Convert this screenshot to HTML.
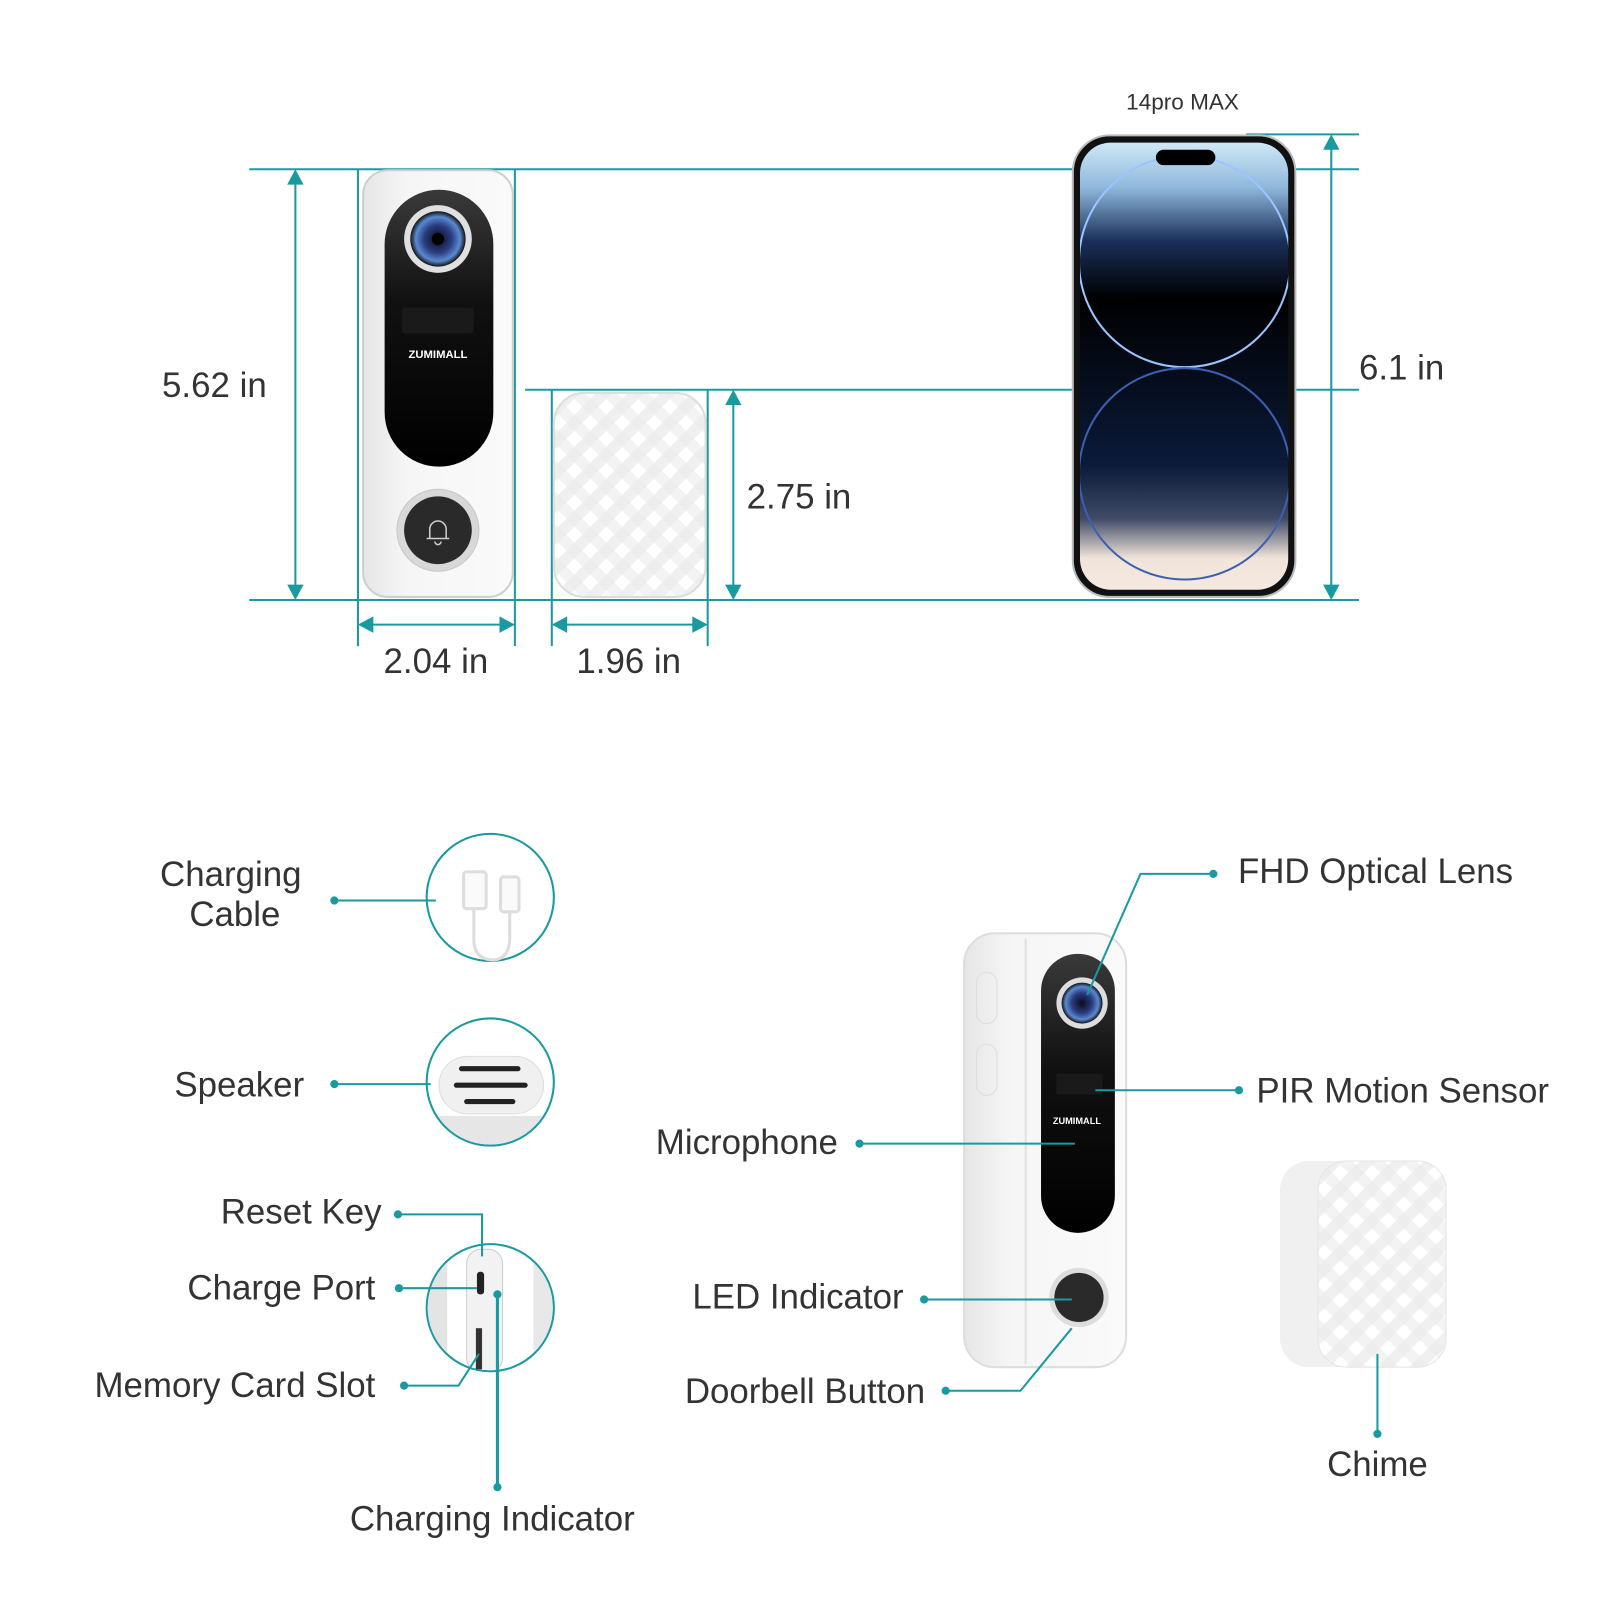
<!DOCTYPE html>
<html><head><meta charset="utf-8"><style>
html,body{margin:0;padding:0;background:#fff;width:1600px;height:1600px;overflow:hidden}
svg{display:block}
text{font-family:"Liberation Sans",sans-serif;fill:#333}
</style></head><body>
<svg width="1600" height="1600" viewBox="0 0 1560 1560" xmlns="http://www.w3.org/2000/svg">
<defs>
<pattern id="chk" width="22" height="22" patternUnits="userSpaceOnUse" patternTransform="rotate(45)">
<rect width="22" height="22" fill="#fff"/>
<rect width="11" height="22" fill="#f0f0f0"/>
<rect width="22" height="11" fill="#ebebeb" opacity="0.6"/>
</pattern>
<linearGradient id="scr" x1="0" y1="0" x2="0" y2="1">
<stop offset="0" stop-color="#cfe8f6"/><stop offset="0.1" stop-color="#8fb8dc"/><stop offset="0.22" stop-color="#1a2f5a"/><stop offset="0.35" stop-color="#000"/><stop offset="0.72" stop-color="#0b1a38"/><stop offset="0.84" stop-color="#3e4a66"/><stop offset="0.93" stop-color="#f1e4da"/><stop offset="1" stop-color="#f5e9e0"/>
</linearGradient>
<radialGradient id="lens"><stop offset="0" stop-color="#0a0a1a"/><stop offset="0.5" stop-color="#2a3d80"/><stop offset="0.8" stop-color="#5a8ad0"/><stop offset="1" stop-color="#111"/></radialGradient>
<linearGradient id="pill" x1="0" y1="0" x2="0" y2="1"><stop offset="0" stop-color="#3a3a3a"/><stop offset="0.4" stop-color="#111"/><stop offset="1" stop-color="#000"/></linearGradient>
<linearGradient id="body" x1="0" y1="0" x2="1" y2="0"><stop offset="0" stop-color="#e6e6e6"/><stop offset="0.3" stop-color="#f6f6f6"/><stop offset="1" stop-color="#fafafa"/></linearGradient>
<clipPath id="scrclip"><rect x="1053" y="139" width="203" height="436" rx="30"/></clipPath>
<clipPath id="c2"><circle cx="478" cy="1055" r="61"/></clipPath>
<clipPath id="c3"><circle cx="478" cy="1275" r="61"/></clipPath>
</defs>
<g stroke="#1a9aa0" stroke-width="2" fill="none">
<line x1="243" y1="165" x2="1046" y2="165"/>
<line x1="1263" y1="165" x2="1325" y2="165"/>
<line x1="243" y1="585" x2="1325" y2="585"/>
<line x1="1215" y1="131" x2="1325" y2="131"/>
<line x1="512" y1="380" x2="1046" y2="380"/>
<line x1="1263" y1="380" x2="1325" y2="380"/>
<line x1="288" y1="170" x2="288" y2="580"/>
<line x1="1298" y1="136" x2="1298" y2="580"/>
<line x1="715" y1="385" x2="715" y2="580"/>
<line x1="349" y1="165" x2="349" y2="630"/>
<line x1="502" y1="165" x2="502" y2="630"/>
<line x1="538" y1="380" x2="538" y2="630"/>
<line x1="690" y1="380" x2="690" y2="630"/>
<line x1="354" y1="609" x2="497" y2="609"/>
<line x1="543" y1="609" x2="685" y2="609"/>
</g>
<g fill="#1a9aa0">
<polygon points="288,165 280,180 296,180"/><polygon points="288,585 280,570 296,570"/>
<polygon points="1298,131 1290,146 1306,146"/><polygon points="1298,585 1290,570 1306,570"/>
<polygon points="715,380 707,395 723,395"/><polygon points="715,585 707,570 723,570"/>
<polygon points="349,609 364,601 364,617"/><polygon points="502,609 487,601 487,617"/>
<polygon points="538,609 553,601 553,617"/><polygon points="690,609 675,601 675,617"/>
</g>
<g font-size="34">
<text x="158" y="387">5.62 in</text>
<text x="425" y="656" text-anchor="middle">2.04 in</text>
<text x="613" y="656" text-anchor="middle">1.96 in</text>
<text x="728" y="496">2.75 in</text>
<text x="1325" y="370">6.1 in</text>
</g>
<text x="1153" y="107" font-size="22" text-anchor="middle">14pro MAX</text>
<!-- doorbell front -->
<rect x="354" y="166" width="146" height="416" rx="24" fill="url(#body)" stroke="#cfcfcf" stroke-width="2"/>
<rect x="375" y="185" width="106" height="270" rx="53" fill="url(#pill)"/>
<circle cx="427" cy="233" r="33" fill="#e0e0e0"/><circle cx="427" cy="233" r="27" fill="url(#lens)"/><circle cx="427" cy="233" r="6" fill="#000"/>
<rect x="392" y="300" width="70" height="25" rx="3" fill="#1a1a1a"/>
<text x="427" y="349" font-size="11" font-weight="bold" text-anchor="middle" style="fill:#fff">ZUMIMALL</text>
<circle cx="427" cy="517" r="40" fill="#d8d8d8" stroke="#c8c8c8"/><circle cx="427" cy="517" r="33" fill="#2a2a2a"/>
<path d="M419 525 v-9 a8 8 0 0 1 16 0 v9 h3 h-22z M424 528 a3 3 0 0 0 6 0" stroke="#ccc" stroke-width="1.5" fill="none"/>
<!-- chime front -->
<rect x="540" y="383" width="148" height="199" rx="30" fill="url(#chk)" stroke="#ddd" stroke-width="2"/>
<!-- phone -->
<rect x="1046" y="132" width="217" height="450" rx="36" fill="#111" stroke="#bbb" stroke-width="2"/>
<rect x="1053" y="139" width="203" height="436" rx="30" fill="url(#scr)"/>
<g clip-path="url(#scrclip)" fill="none">
<circle cx="1155" cy="255" r="103" stroke="#9cc4ff" stroke-width="2"/>
<circle cx="1155" cy="462" r="103" stroke="#3d5fb0" stroke-width="2"/>
</g>
<rect x="1127" y="146" width="58" height="15" rx="7.5" fill="#000"/>
<!-- bottom circles -->
<g stroke="#1a9aa0" stroke-width="2" fill="#fff">
<circle cx="478" cy="875" r="62"/><circle cx="478" cy="1055" r="62"/><circle cx="478" cy="1275" r="62"/>
</g>
<g fill="none" stroke="#ddd" stroke-width="3">
<rect x="452" y="850" width="22" height="36" rx="3" fill="#fafafa"/><rect x="488" y="855" width="18" height="34" rx="3" fill="#fafafa"/>
<path d="M462 886 v30 q0 20 20 20 M497 889 v25 q0 20 -15 22"/>
</g>
<g clip-path="url(#c2)">
<rect x="420" y="1088" width="116" height="30" fill="#e6e6e6"/>
<rect x="428" y="1030" width="102" height="56" rx="28" fill="#f0f0f0" stroke="#ddd"/>
</g>
<g stroke="#222" stroke-width="5" stroke-linecap="round"><line x1="450" y1="1042" x2="505" y2="1042"/><line x1="445" y1="1058" x2="512" y2="1058"/><line x1="455" y1="1074" x2="500" y2="1074"/></g>
<g clip-path="url(#c3)">
<rect x="416" y="1212" width="20" height="130" fill="#e4e4e4"/>
<rect x="520" y="1212" width="20" height="130" fill="#e8e8e8"/>
<rect x="455" y="1218" width="35" height="120" rx="14" fill="#f2f2f2" stroke="#ccc"/>
</g>
<rect x="465" y="1240" width="7" height="22" rx="3" fill="#222"/><rect x="464" y="1295" width="6" height="40" fill="#333"/>
<!-- labels -->
<g font-size="34">
<text x="225" y="864" text-anchor="middle">Charging</text>
<text x="229" y="903" text-anchor="middle">Cable</text>
<text x="170" y="1069">Speaker</text>
<text x="372" y="1193" text-anchor="end">Reset Key</text>
<text x="366" y="1267" text-anchor="end">Charge Port</text>
<text x="366" y="1362" text-anchor="end">Memory Card Slot</text>
<text x="480" y="1492" text-anchor="middle">Charging Indicator</text>
<text x="1207" y="861">FHD Optical Lens</text>
<text x="1225" y="1075">PIR Motion Sensor</text>
<text x="817" y="1125" text-anchor="end">Microphone</text>
<text x="881" y="1276" text-anchor="end">LED Indicator</text>
<text x="902" y="1368" text-anchor="end">Doorbell Button</text>
<text x="1343" y="1439" text-anchor="middle">Chime</text>
</g>
<!-- big doorbell -->
<rect x="940" y="910" width="158" height="423" rx="30" fill="url(#body)" stroke="#ddd" stroke-width="2"/>
<line x1="1000" y1="915" x2="1000" y2="1330" stroke="#e2e2e2" stroke-width="2"/>
<rect x="952" y="948" width="20" height="50" rx="10" fill="none" stroke="#ddd"/>
<rect x="952" y="1018" width="20" height="50" rx="10" fill="none" stroke="#ddd"/>
<rect x="1015" y="930" width="72" height="272" rx="36" fill="url(#pill)"/>
<circle cx="1055" cy="978" r="25" fill="#ddd"/><circle cx="1055" cy="978" r="20" fill="url(#lens)"/>
<rect x="1030" y="1047" width="45" height="20" fill="#1a1a1a"/>
<text x="1050" y="1096" font-size="9" font-weight="bold" text-anchor="middle" style="fill:#fff">ZUMIMALL</text>
<circle cx="1052" cy="1265" r="29" fill="#ddd"/><circle cx="1052" cy="1265" r="24" fill="#2a2a2a"/>
<!-- chime side -->
<rect x="1248" y="1132" width="120" height="201" rx="28" fill="#f0f0f0"/>
<rect x="1285" y="1132" width="125" height="201" rx="28" fill="url(#chk)" stroke="#e5e5e5"/>
<!-- connectors -->
<g stroke="#1a9aa0" stroke-width="2" fill="none">
<line x1="326" y1="878" x2="425" y2="878"/>
<line x1="326" y1="1057" x2="420" y2="1057"/>
<polyline points="388,1184 470,1184 470,1225"/>
<line x1="389" y1="1256" x2="465" y2="1256"/>
<polyline points="394,1351 447,1351 467,1320"/>
<line x1="485" y1="1262" x2="485" y2="1450" stroke-width="3"/>
<polyline points="1183,852 1112,852 1060,970"/>
<line x1="1208" y1="1063" x2="1068" y2="1063"/>
<line x1="838" y1="1115" x2="1048" y2="1115"/>
<line x1="901" y1="1267" x2="1045" y2="1267"/>
<polyline points="922,1356 995,1356 1045,1295"/>
<line x1="1343" y1="1320" x2="1343" y2="1398"/>
</g>
<g fill="#1a9aa0">
<circle cx="326" cy="878" r="4"/><circle cx="326" cy="1057" r="4"/><circle cx="388" cy="1184" r="4"/><circle cx="389" cy="1256" r="4"/><circle cx="394" cy="1351" r="4"/><circle cx="485" cy="1450" r="4"/><circle cx="485" cy="1262" r="4"/>
<circle cx="1183" cy="852" r="4"/><circle cx="1208" cy="1063" r="4"/><circle cx="838" cy="1115" r="4"/><circle cx="901" cy="1267" r="4"/><circle cx="922" cy="1356" r="4"/><circle cx="1343" cy="1398" r="4"/>
</g>
</svg>
</body></html>
